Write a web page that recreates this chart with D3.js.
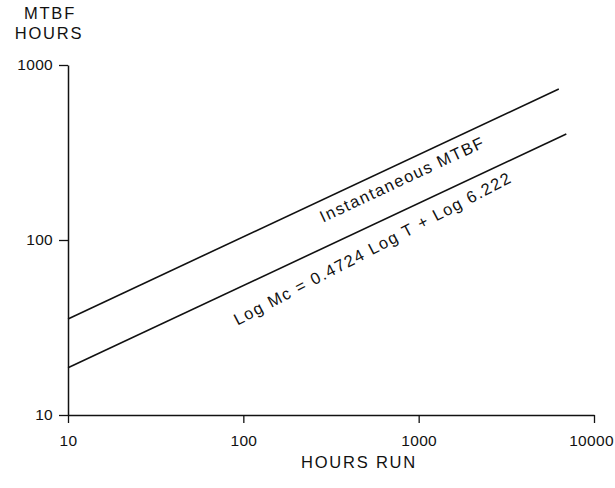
<!DOCTYPE html>
<html>
<head>
<meta charset="utf-8">
<script src="https://cdn.jsdelivr.net/npm/d3@7"></script>
<style>
  body { margin: 0; background: #fff; }
  svg { display: block; }
  text { font-family: "Liberation Sans", Arial, Helvetica, sans-serif; fill: #111; }
  .tick text { font-size: 15.5px; letter-spacing: 0.3px; }
  .title { font-size: 16.5px; letter-spacing: 1.8px; }
  .lbl { font-size: 16.5px; letter-spacing: 1.5px; }
</style>
</head>
<body>
<svg width="615" height="488"></svg>
<script>
(function () {
  "use strict";
  // data
  const instHours = [10, 6300];
  const instMtbf = [35.4, 729];
  const cumHours = [10, 6950];
  const cumMtbf = [18.6, 403];
  const xTicks = [10, 100, 1000, 10000];
  const yTicks = [10, 100, 1000];

  const svg = d3.select("svg");
  const margin = { top: 65, right: 21, bottom: 73, left: 68 };
  const width = +svg.attr("width");
  const height = +svg.attr("height");
  const innerWidth = width - margin.left - margin.right;
  const innerHeight = height - margin.top - margin.bottom;

  const xScale = d3.scaleLog().domain([10, 10000]).range([0, innerWidth]);
  const yScale = d3.scaleLog().domain([10, 1000]).range([innerHeight, 0]);

  const g = svg.append("g")
    .attr("transform", `translate(${margin.left},${margin.top})`);

  const xAxisG = g.append("g")
    .attr("transform", `translate(0,${innerHeight})`)
    .call(d3.axisBottom(xScale).tickValues(xTicks).tickFormat(d3.format("d"))
      .tickSize(8).tickSizeOuter(0).tickPadding(12));
  const yAxisG = g.append("g")
    .call(d3.axisLeft(yScale).tickValues(yTicks).tickFormat(d3.format("d"))
      .tickSize(9).tickSizeOuter(0).tickPadding(6));

  [xAxisG, yAxisG].forEach((ax) => {
    ax.select(".domain").attr("stroke", "#111").attr("stroke-width", 1.5);
    ax.selectAll(".tick line").attr("stroke", "#111").attr("stroke-width", 1.3);
    ax.selectAll(".tick text").attr("fill", "#111");
  });
  // last label sits at the page edge
  xAxisG.selectAll(".tick text").filter((d) => d === 10000).attr("dx", -3);

  const line = d3.line()
    .x((d) => xScale(d[0]))
    .y((d) => yScale(d[1]));

  const inst = d3.zip(instHours, instMtbf);
  const cum = d3.zip(cumHours, cumMtbf);

  g.selectAll(".curve")
    .data([inst, cum])
    .enter()
    .append("path")
    .attr("class", "curve")
    .attr("d", line)
    .attr("fill", "none")
    .attr("stroke", "#111")
    .attr("stroke-width", 1.6);

  // rotated labels sit along the lines
  const angleOf = (pts) => {
    const dx = xScale(pts[1][0]) - xScale(pts[0][0]);
    const dy = yScale(pts[1][1]) - yScale(pts[0][1]);
    return Math.atan2(dy, dx) * 180 / Math.PI;
  };
  const pointAt = (pts, t) => {
    const k = Math.log(pts[1][1] / pts[0][1]) / Math.log(pts[1][0] / pts[0][0]);
    return [xScale(t), yScale(pts[0][1] * Math.pow(t / pts[0][0], k))];
  };

  const labels = [
    { pts: inst, t: 740, dy: 21, tilt: 0, text: "Instantaneous MTBF" },
    { pts: cum, t: 480, dy: 27, tilt: -2.5, text: "Log Mc = 0.4724 Log T + Log 6.222" }
  ];
  labels.forEach((l) => {
    const p = pointAt(l.pts, l.t);
    g.append("text")
      .attr("class", "lbl")
      .attr("transform", `translate(${p[0]},${p[1]}) rotate(${angleOf(l.pts) + l.tilt})`)
      .attr("text-anchor", "middle")
      .attr("dy", l.dy)
      .text(l.text);
  });

  svg.append("text").attr("class", "title")
    .attr("x", 50).attr("y", 19).attr("text-anchor", "middle").text("MTBF");
  svg.append("text").attr("class", "title")
    .attr("x", 49).attr("y", 39).attr("text-anchor", "middle").text("HOURS");
  svg.append("text").attr("class", "title")
    .attr("x", 359).attr("y", 468).attr("text-anchor", "middle").text("HOURS RUN");
})(d3);
</script>
</body>
</html>
